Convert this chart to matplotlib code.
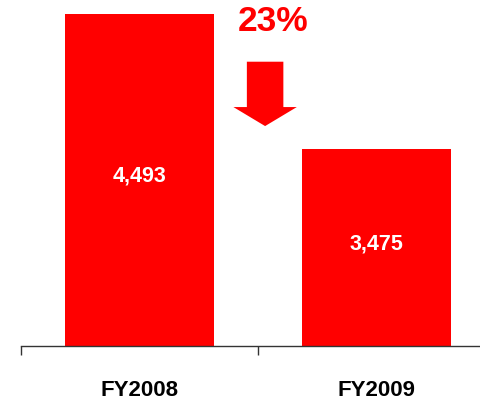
import matplotlib
matplotlib.use("Agg")
import matplotlib.pyplot as plt
from matplotlib.patches import FancyArrow

categories = ["FY2008", "FY2009"]
values = [4493, 3475]
value_labels = ["4,493", "3,475"]
change_label = "23%"

RED = "#FF0000"
FONT = ["Liberation Sans", "DejaVu Sans"]

fig = plt.figure(figsize=(4.8, 4.03), dpi=100)
ax = fig.add_axes([21/480, (403-345.5)/403, 474/480, 345.5/403])

ymin, ymax = 2000, 4598
x = list(range(len(categories)))
ax.bar(x, [v - ymin for v in values], bottom=ymin, width=0.63, color=RED)
ax.set_xlim(-0.5, 1.5)
ax.set_ylim(ymin, ymax)

for xi, v, lab in zip(x, values, value_labels):
    ax.text(xi, (ymin + v) / 2 + 25, lab, ha="center", va="center", color="white",
            fontsize=15.5, fontweight="bold", family=FONT)

for s in ["top", "left", "right"]:
    ax.spines[s].set_visible(False)
ax.spines["bottom"].set_color("#333333")
ax.spines["bottom"].set_linewidth(1.0)
ax.set_yticks([])
ax.set_xticks([-0.5, 0.5, 1.5])
ax.set_xticklabels([])
ax.tick_params(axis="x", which="major", direction="out", length=6.5, width=1, color="#333333")
ax.set_xticks(x, categories, minor=True)
ax.tick_params(axis="x", which="minor", length=0, pad=24.5)
for t in ax.get_xticklabels(minor=True):
    t.set_fontsize(16)
    t.set_fontweight("bold")
    t.set_family(FONT)
    t.set_color("black")

# decrease arrow and label
ax.add_patch(FancyArrow(0.53, 4134, 0, -484, width=0.154, head_width=0.2675,
                        head_length=143, length_includes_head=True,
                        color=RED, linewidth=0))
ax.text(0.563, 4433, change_label, ha="center", va="center", color=RED,
        fontsize=25.5, fontweight="bold", family=FONT)

fig.savefig("out.png", dpi=100)
